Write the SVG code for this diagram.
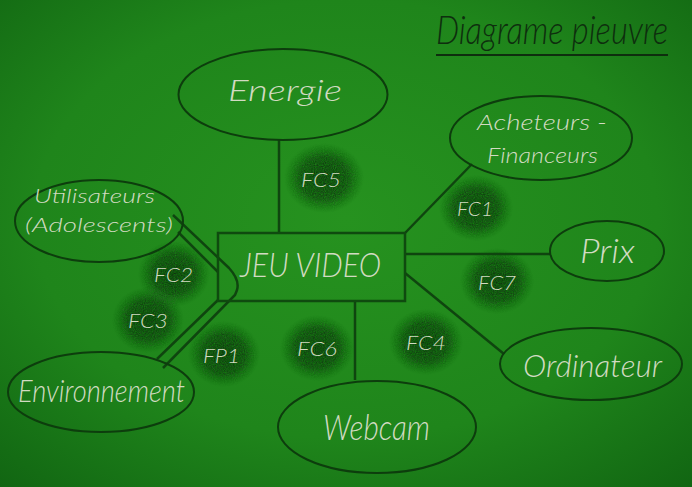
<svg xmlns="http://www.w3.org/2000/svg" width="692" height="487" viewBox="0 0 692 487">
<defs>
<radialGradient id="bg" cx="0.5" cy="0.45" r="0.75">
<stop offset="0" stop-color="#26921f"/>
<stop offset="0.6" stop-color="#1f851b"/>
<stop offset="1" stop-color="#116512"/>
</radialGradient>
<radialGradient id="blob">
<stop offset="0" stop-color="#093509" stop-opacity="1"/>
<stop offset="0.6" stop-color="#0b400b" stop-opacity="0.85"/>
<stop offset="1" stop-color="#145a14" stop-opacity="0"/>
</radialGradient>
<filter id="grain" x="-20%" y="-20%" width="140%" height="140%">
<feTurbulence type="fractalNoise" baseFrequency="0.9" numOctaves="1" result="n"/>
<feColorMatrix in="n" type="matrix" values="0 0 0 0 0  0 0 0 0 0  0 0 0 0 0  0 0 0 1.4 0" result="m"/>
<feComposite in="SourceGraphic" in2="m" operator="in"/>
</filter>
</defs>
<style>
.node ellipse{fill:none;stroke:#0d3d0d;stroke-width:2}
.node rect{fill:none;stroke:#0f4a0f;stroke-width:2.5}
.lbl{font-family:Lato,"DejaVu Sans",sans-serif;font-weight:300;font-style:italic;fill:#d2dbc2}
.fc{font-family:Lato,"DejaVu Sans",sans-serif;font-weight:300;font-style:italic;fill:#d2dbc2;font-size:20px}
#connectors line,#connectors path{stroke:#0f450f;stroke-width:2.5;fill:none}
.blob{fill:url(#blob)}
</style>
<rect width="692" height="487" fill="url(#bg)"/>
<g id="title">
<text transform="translate(552,44) scale(0.86,1.05)" x="0" y="0" text-anchor="middle" font-family="Lato, DejaVu Sans, sans-serif" font-weight="300" font-style="italic" font-size="38" fill="#0e2e0e">Diagrame pieuvre</text>
<line x1="436" y1="55" x2="668" y2="55" stroke="#0e2e0e" stroke-width="2"/>
</g>
<g id="blobs" filter="url(#grain)">
<ellipse class="blob" cx="324" cy="178" rx="40" ry="35"/>
<ellipse class="blob" cx="476" cy="208" rx="37" ry="33"/>
<ellipse class="blob" cx="174" cy="274" rx="36" ry="33"/>
<ellipse class="blob" cx="497" cy="281" rx="37" ry="33"/>
<ellipse class="blob" cx="148" cy="320" rx="36" ry="33"/>
<ellipse class="blob" cx="224" cy="354" rx="36" ry="33"/>
<ellipse class="blob" cx="317" cy="348" rx="37" ry="33"/>
<ellipse class="blob" cx="426" cy="342" rx="37" ry="33"/>
</g>
<g id="connectors">
<line x1="279" y1="140" x2="279" y2="233"/>
<line x1="355" y1="301" x2="355" y2="380"/>
<line x1="405" y1="233" x2="472" y2="164"/>
<line x1="405" y1="254" x2="550" y2="254"/>
<line x1="405" y1="273" x2="504" y2="354"/>
<path d="M173,215 L229,268 Q240,280 237,290 L235,295 L163,368"/>
<line x1="178" y1="232" x2="218" y2="272"/>
<line x1="218" y1="300" x2="157" y2="359"/>
</g>
<g id="energie" class="node">
<ellipse cx="283" cy="94.5" rx="104.5" ry="45.5"/>
<text class="lbl" x="228" y="101" font-size="30" textLength="114" lengthAdjust="spacingAndGlyphs">Energie</text>
</g>
<g id="acheteurs" class="node">
<ellipse cx="541" cy="138" rx="91" ry="42"/>
<text class="lbl" x="477" y="130" font-size="21" textLength="130" lengthAdjust="spacingAndGlyphs">Acheteurs -</text>
<text class="lbl" x="487" y="163" font-size="21" textLength="111" lengthAdjust="spacingAndGlyphs">Financeurs</text>
</g>
<g id="utilisateurs" class="node">
<ellipse cx="99" cy="221" rx="84" ry="41"/>
<text class="lbl" x="34" y="203" font-size="20" textLength="121" lengthAdjust="spacingAndGlyphs">Utilisateurs</text>
<text class="lbl" x="25" y="232" font-size="20" textLength="148" lengthAdjust="spacingAndGlyphs">(Adolescents)</text>
</g>
<g id="jeuvideo" class="node">
<rect x="218" y="233" width="187" height="68"/>
<text class="lbl" x="240" y="277" font-size="33" textLength="141" lengthAdjust="spacingAndGlyphs">JEU VIDEO</text>
</g>
<g id="prix" class="node">
<ellipse cx="607" cy="251" rx="57" ry="30"/>
<text class="lbl" x="580" y="263" font-size="33" textLength="55" lengthAdjust="spacingAndGlyphs">Prix</text>
</g>
<g id="ordinateur" class="node">
<ellipse cx="591" cy="364" rx="91" ry="36"/>
<text class="lbl" x="523" y="377" font-size="31" textLength="139" lengthAdjust="spacingAndGlyphs">Ordinateur</text>
</g>
<g id="environnement" class="node">
<ellipse cx="101" cy="392" rx="93" ry="40"/>
<text class="lbl" x="18" y="402" font-size="31" textLength="167" lengthAdjust="spacingAndGlyphs">Environnement</text>
</g>
<g id="webcam" class="node">
<ellipse cx="377" cy="427" rx="99" ry="46"/>
<text class="lbl" x="323" y="440" font-size="36" textLength="107" lengthAdjust="spacingAndGlyphs">Webcam</text>
</g>
<g id="labels">
<text class="fc" x="301" y="187" textLength="40" lengthAdjust="spacingAndGlyphs">FC5</text>
<text class="fc" x="457" y="216" textLength="36" lengthAdjust="spacingAndGlyphs">FC1</text>
<text class="fc" x="154" y="282" textLength="39" lengthAdjust="spacingAndGlyphs">FC2</text>
<text class="fc" x="478" y="290" textLength="38" lengthAdjust="spacingAndGlyphs">FC7</text>
<text class="fc" x="128" y="328" textLength="40" lengthAdjust="spacingAndGlyphs">FC3</text>
<text class="fc" x="203" y="363" textLength="37" lengthAdjust="spacingAndGlyphs">FP1</text>
<text class="fc" x="297" y="356" textLength="40" lengthAdjust="spacingAndGlyphs">FC6</text>
<text class="fc" x="406" y="350" textLength="40" lengthAdjust="spacingAndGlyphs">FC4</text>
</g>
</svg>
